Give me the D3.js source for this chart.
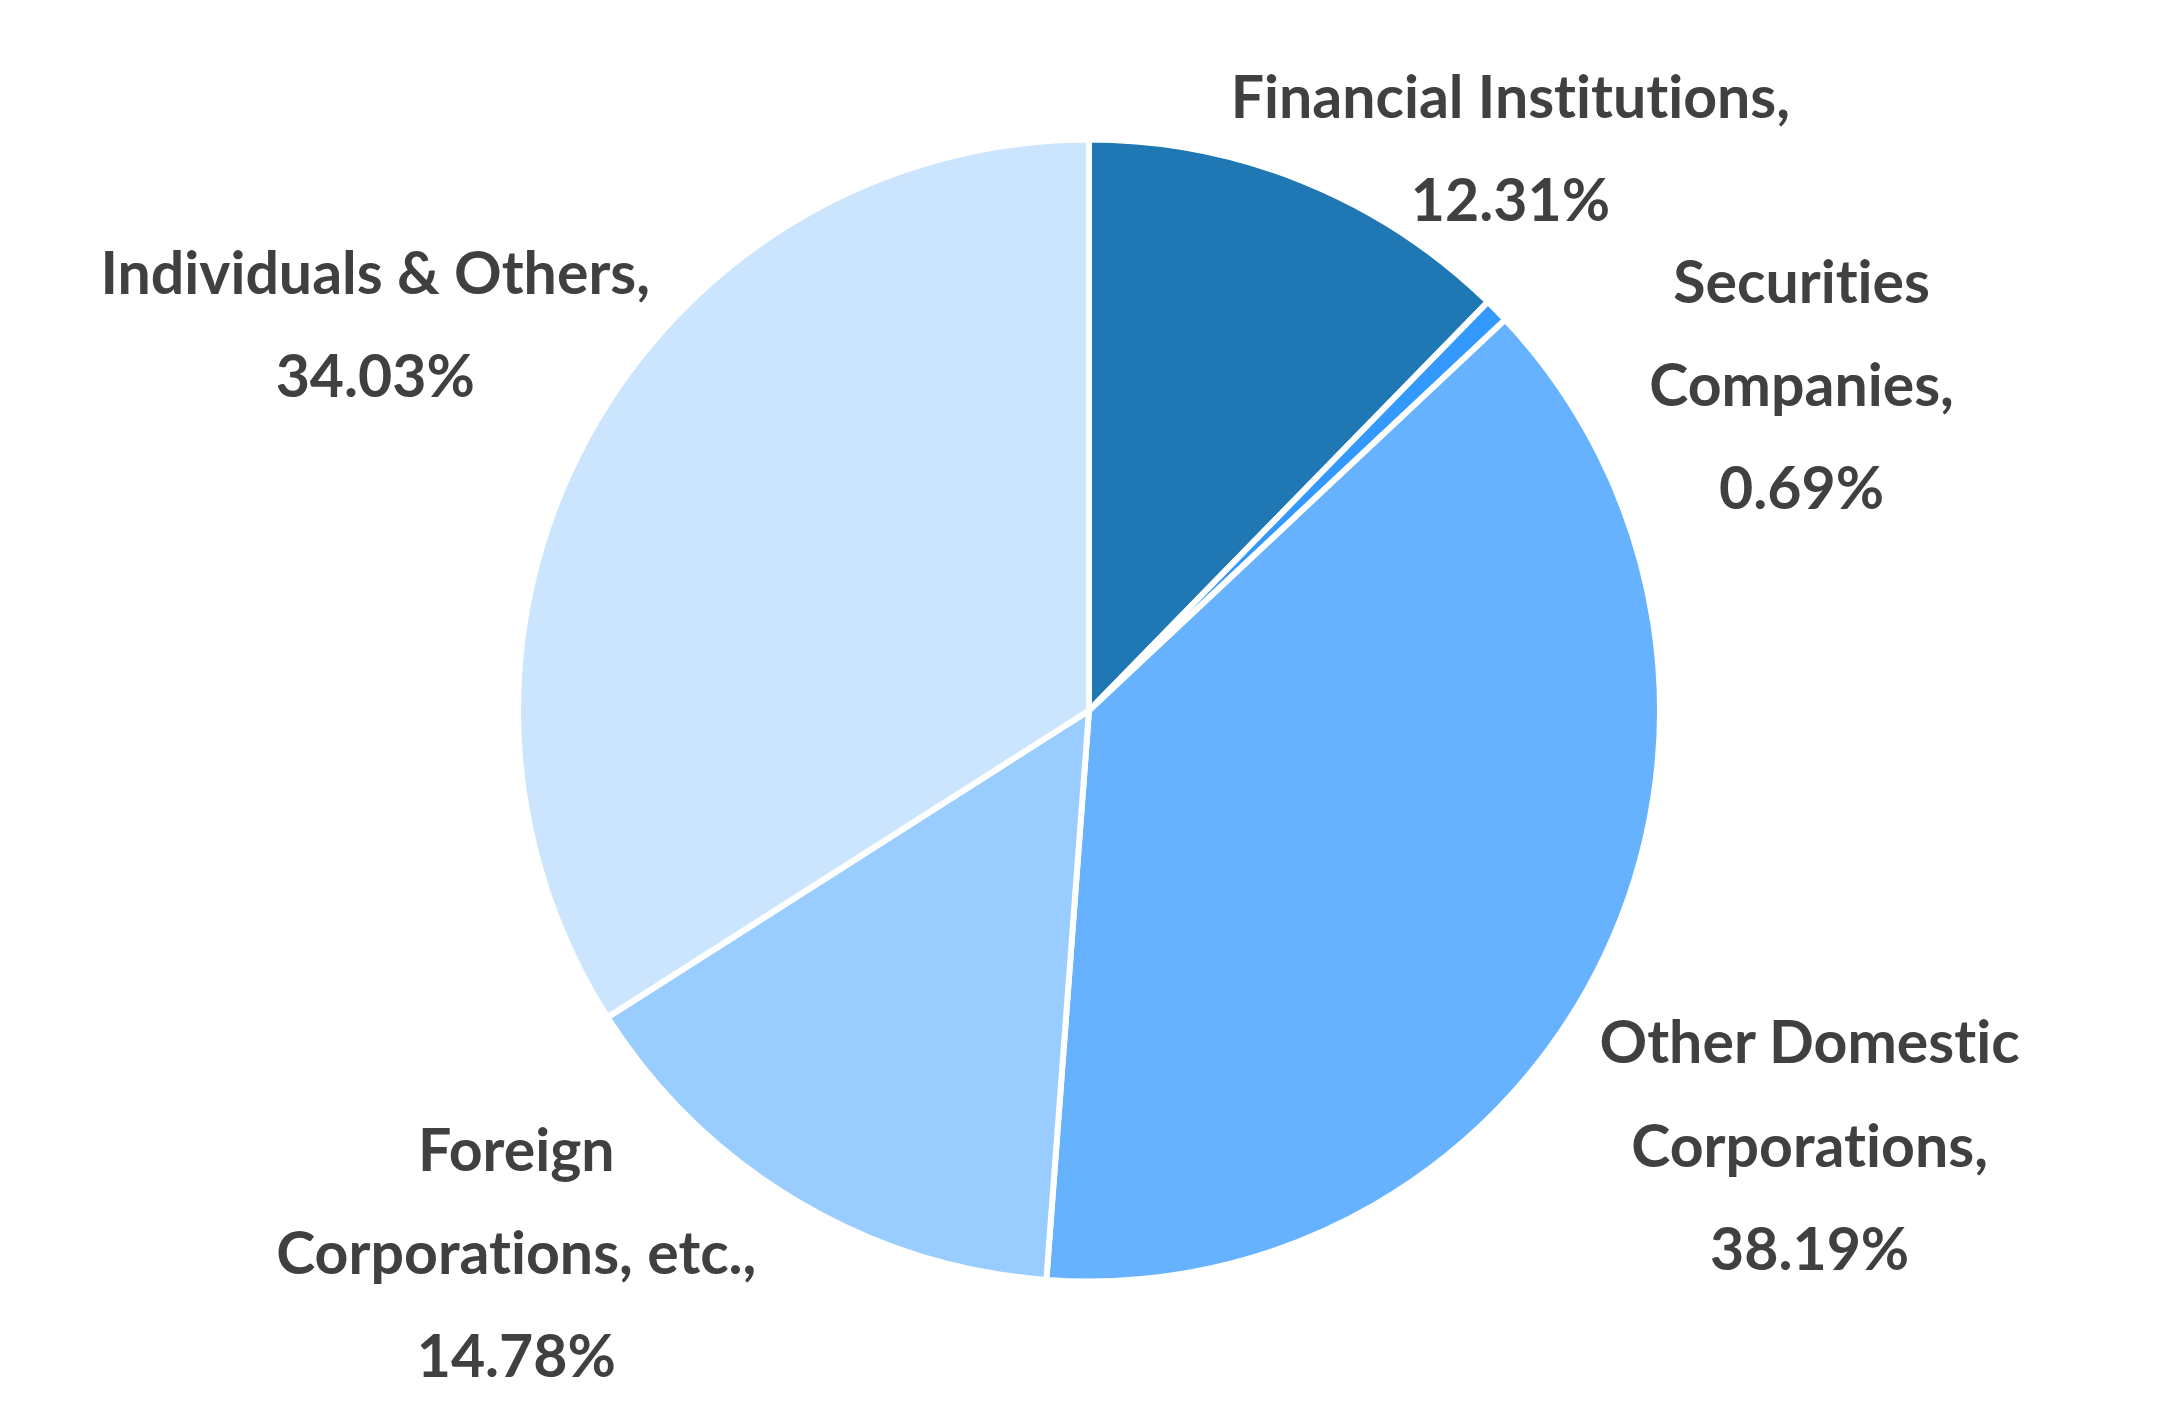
<!DOCTYPE html>
<html>
<head>
<meta charset="utf-8">
<script src="https://cdn.jsdelivr.net/npm/d3@7"></script>
<style>
  html, body { margin: 0; padding: 0; background: #fff; }
  svg { display: block; }
  .lbl { font-variant-ligatures: none; font-feature-settings: "liga" 0; }
</style>
</head>
<body>
<svg id="chart"></svg>
<script>
// Data
const categories = [
  "Financial Institutions",
  "Securities Companies",
  "Other Domestic Corporations",
  "Foreign Corporations, etc.",
  "Individuals & Others"
];
const shares = [12.31, 0.69, 38.19, 14.78, 34.03];
const labelLines = [
  ["Financial Institutions,"],
  ["Securities", "Companies,"],
  ["Other Domestic", "Corporations,"],
  ["Foreign", "Corporations, etc.,"],
  ["Individuals & Others,"]
];
const colors = ["#1f77b4", "#3399ff", "#66b2ff", "#99ccff", "#cce5ff"];

const width = 2178, height = 1422;
const svg = d3.select("#chart").attr("width", width).attr("height", height);

const cx = 1089, cy = 710.5, radius = 571;
const lineHeight = 103.3;
// label block anchor (center x, first baseline) relative to pie centre, in radius units
const labelAnchor = [
  [0.738, -1.038],
  [1.248, -0.714],
  [1.262, 0.618],
  [-1.003, 0.806],
  [-1.25, -0.730]
];

const rows = categories.map((c, i) => ({ name: c, value: shares[i], lines: labelLines[i], color: colors[i], idx: i }));

const pie = d3.pie().sort(null).value(d => d.value);
const arc = d3.arc().innerRadius(0).outerRadius(radius);

const g = svg.append("g").attr("transform", `translate(${cx},${cy})`);

g.selectAll("path")
  .data(pie(rows))
  .enter()
  .append("path")
  .attr("d", arc)
  .attr("fill", d => d.data.color)
  .attr("stroke", "#fff")
  .attr("stroke-width", 6)
  .attr("stroke-linejoin", "round");

const labels = g.selectAll("text.lbl")
  .data(rows)
  .enter()
  .append("text")
  .attr("class", "lbl")
  .attr("text-anchor", "middle")
  .attr("font-family", "'Source Sans Pro', Lato, 'Noto Sans', sans-serif")
  .attr("font-weight", 700)
  .attr("font-size", 59)
  .attr("fill", "#404040");

labels.each(function(d) {
  const [ax, ay] = labelAnchor[d.idx];
  const t = d3.select(this);
  const lines = d.lines.concat([d.value.toFixed(2) + "%"]);
  lines.forEach((ln, k) => {
    t.append("tspan")
      .attr("x", ax * radius)
      .attr("y", ay * radius + k * lineHeight)
      .text(ln);
  });
});
</script>
</body>
</html>
